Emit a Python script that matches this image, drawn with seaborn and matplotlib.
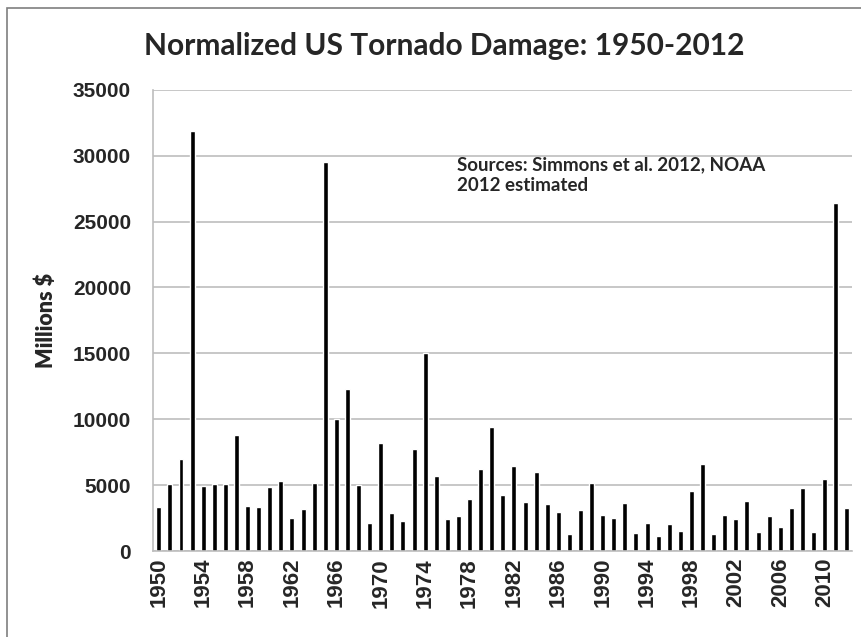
import numpy as np
import pandas as pd
import matplotlib
matplotlib.use('Agg')
import matplotlib.pyplot as plt
import seaborn as sns
from matplotlib.patches import Rectangle

# ── Data (normalized damage, millions $) ─────────────────────────────────────
years = list(range(1950, 2013))
damage = [
    3350, 5100, 6970, 31900, 4940, 5060, 5060, 8780, 3410, 3330,   # 1950-59
    4860, 5340, 2490, 3160, 5190, 29500, 10000, 12300, 4990, 2090, # 1960-69
    8190, 2880, 2260, 7740, 15000, 5730, 2440, 2620, 3970, 6210,   # 1970-79
    9440, 4270, 6460, 3740, 6000, 3540, 2930, 1300, 3080, 5140,    # 1980-89
    2750, 2540, 3610, 1350, 2160, 1170, 2040, 1550, 4530, 6590,    # 1990-99
    1300, 2750, 2440, 3820, 1420, 2620, 1830, 3280, 4810, 1420,    # 2000-09
    5470, 26400, 3280,                                             # 2010-12
]
yticks = [0, 5000, 10000, 15000, 20000, 25000, 30000, 35000]
title = 'Normalized US Tornado Damage: 1950-2012'
note = 'Sources: Simmons et al. 2012, NOAA\n2012 estimated'

df = pd.DataFrame({'year': years, 'damage': damage})

sns.set_style('white')
plt.rcParams['font.family'] = ['Lato', 'DejaVu Sans']

fig = plt.figure(figsize=(8.61, 6.37), dpi=100)
ax = fig.add_axes([0.178, 0.135, 0.812, 0.724])

sns.barplot(data=df, x='year', y='damage', color='black', width=0.45,
            saturation=1, ax=ax)

ax.set_ylim(0, 35000)
ax.set_xlim(-0.5, len(years) - 0.5)
ax.set_yticks(yticks)
ax.set_yticklabels([str(v) for v in yticks], fontsize=15, fontweight='bold',
                   family='Liberation Sans')
ax.yaxis.grid(True, color='#bdbdbd', linewidth=1.2)
ax.set_axisbelow(True)

pos = np.arange(0, len(years), 4)
ax.set_xticks(pos)
ax.set_xticklabels([str(years[i]) for i in pos], rotation=90, fontsize=16,
                   fontweight='bold', family='Liberation Sans')
ax.set_xticks(np.arange(-0.5, len(years)), minor=True)
ax.tick_params(axis='x', which='major', length=0, pad=5)
ax.tick_params(axis='x', which='minor', length=6, color='#bdbdbd', width=1)
ax.tick_params(axis='y', length=7, color='#bdbdbd', width=1.2, pad=9)

for s in ['top', 'right']:
    ax.spines[s].set_visible(False)
for s in ['left', 'bottom']:
    ax.spines[s].set_color('#bdbdbd')
    ax.spines[s].set_linewidth(1.2)

ax.set_xlabel('')
ax.set_ylabel('Millions $', fontsize=15.5, fontweight='heavy')
ax.yaxis.set_label_coords(-0.137, 0.5)

fig.text(0.516, 0.928, title, ha='center', va='center', fontsize=21.5,
         fontweight='bold')
ax.text(0.435, 0.857, note, transform=ax.transAxes, ha='left', va='top',
        fontsize=13.5, fontweight='bold', linespacing=1.3)

# thin frame around the chart area
fig.patches.append(Rectangle((7 / 861, -0.1), 1.2, 1.1 - 8 / 637,
                             transform=fig.transFigure, fill=False,
                             edgecolor='#7f7f7f', linewidth=1.2))

fig.savefig('out.png', dpi=100)
